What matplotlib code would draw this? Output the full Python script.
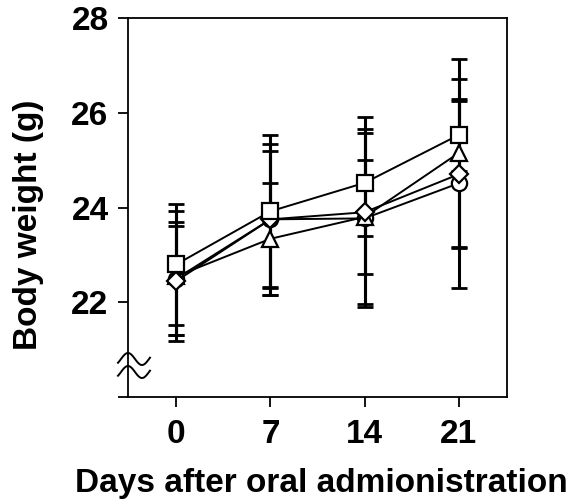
import numpy as np
import matplotlib.pyplot as plt

plt.rcParams['font.family'] = ['Liberation Sans', 'DejaVu Sans']
plt.rcParams['font.weight'] = 'bold'

days = [0, 7, 14, 21]

# mean body weight (g) and SD per group
circle = [22.5, 23.75, 23.77, 24.51]
circle_err = [1.2, 1.45, 1.8, 2.2]
triangle = [22.55, 23.34, 23.8, 25.15]
triangle_err = [1.37, 1.18, 1.2, 1.98]
diamond = [22.45, 23.75, 23.9, 24.7]
diamond_err = [1.15, 1.6, 2.0, 1.55]
square = [22.8, 23.92, 24.52, 25.53]
square_err = [1.28, 1.6, 1.13, 0.76]

groups = [
    (circle, circle_err, 'o', 11),
    (triangle, triangle_err, '^', 11),
    (diamond, diamond_err, 'D', 9),
    (square, square_err, 's', 11),
]

fig = plt.figure(figsize=(5.75, 4.99), dpi=100)
ax = fig.add_axes([128 / 575, 102 / 499, 379 / 575, 379 / 499])

for vals, err, mk, ms in groups:
    ax.errorbar(days, vals, yerr=err, fmt='none', ecolor='black',
                elinewidth=2.2, capsize=6, capthick=2, zorder=2)
for i, (vals, err, mk, ms) in enumerate(groups):
    ax.plot(days, vals, color='black', lw=1.4, marker=mk, ms=ms,
            mfc='white', mec='black', mew=1.6, zorder=3 + i)

ax.set_xlim(-3.6, 24.6)
ax.set_ylim(20, 28)
ax.set_xticks(days)
ax.set_xticklabels(['0', '7', '14', '21'])
ax.set_yticks([20, 22, 24, 26, 28])
ax.set_yticklabels(['', '22', '24', '26', '28'])
ax.tick_params(axis='both', direction='out', length=7, width=1.3,
               labelsize=24, pad=7)
ax.tick_params(axis='x', pad=9)
for s in ax.spines.values():
    s.set_linewidth(1.3)

ax.set_xlabel('Days after oral admionistration', fontsize=24,
              fontweight='bold')
ax.set_ylabel('Body weight (g)', fontsize=24, fontweight='bold')
ax.xaxis.set_label_coords(0.509, -0.188)
ax.yaxis.set_label_coords(-0.222, 0.454)

# axis break mark on the y axis
w = 379.0
xp = np.linspace(-10, 22, 80)
yp = 6 * np.sin(2 * np.pi * (xp + 7) / 28)
for yc in [38, 25]:
    ax.plot(xp / w, (yc + yp) / w, color='black', lw=1.4,
            transform=ax.transAxes, clip_on=False, zorder=10)

fig.savefig('out.png', dpi=100)
